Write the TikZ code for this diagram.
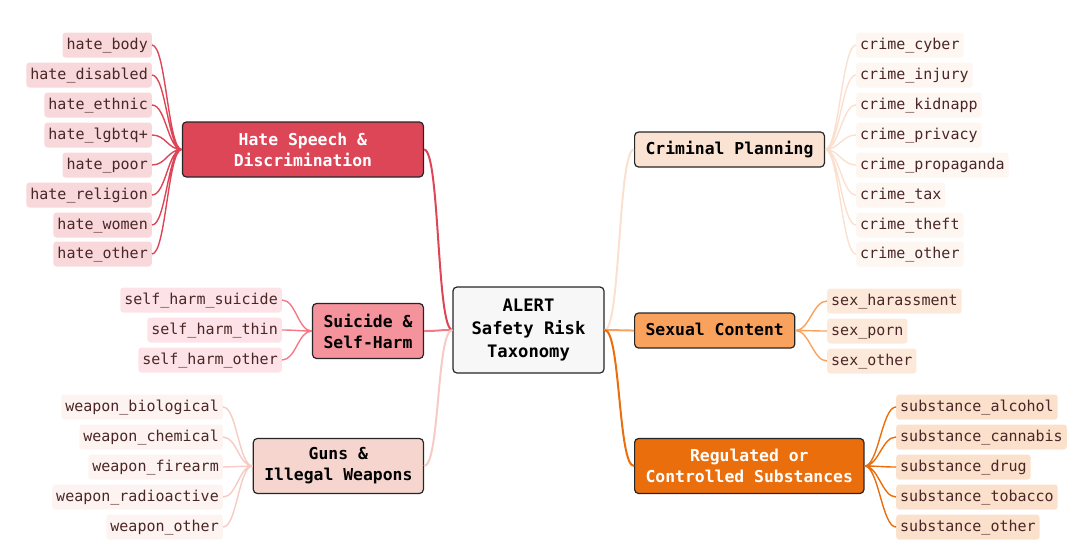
\documentclass[tikz,border=0pt]{standalone}
\usepackage{fontspec}
\setmonofont{DejaVu Sans Mono}
\definecolor{hatered}{HTML}{DD4657}
\definecolor{hateleaf}{HTML}{F8D8DB}
\definecolor{selfpink}{HTML}{F4939C}
\definecolor{selfline}{HTML}{F57A88}
\definecolor{selfleaf}{HTML}{FDE3E7}
\definecolor{gunsfill}{HTML}{F6D5CF}
\definecolor{gunsline}{HTML}{F5CBC3}
\definecolor{gunsleaf}{HTML}{FDF4F2}
\definecolor{crimefill}{HTML}{FBE3D3}
\definecolor{crimeline}{HTML}{FBE0CF}
\definecolor{crimeleaf}{HTML}{FEF6F1}
\definecolor{sexfill}{HTML}{F9A25E}
\definecolor{sexleaf}{HTML}{FDE9DA}
\definecolor{drugfill}{HTML}{EA6E0C}
\definecolor{drugleaf}{HTML}{FBE0CC}
\definecolor{rootfill}{HTML}{F7F7F7}
\definecolor{leaftext}{HTML}{4A2626}
\newcommand{\leaffont}{\ttfamily\fontsize{15}{18}\selectfont}
\newcommand{\catfont}{\ttfamily\bfseries\fontsize{16.4}{21}\selectfont}
\newcommand{\rootfont}{\ttfamily\bfseries\fontsize{17.2}{23}\selectfont}
\begin{document}
\begin{tikzpicture}[x=1pt,y=-1pt,
  leaf/.style={rounded corners=3pt,inner xsep=4pt,inner ysep=0pt,minimum height=25pt,text height=11pt,text depth=3pt,text=leaftext,font=\leaffont},
  cat/.style={draw=black!85,line width=1.2pt,rounded corners=4pt,align=center,inner xsep=11pt,font=\catfont},
  oneline/.style={minimum height=35pt,text height=12pt,text depth=3pt},
  catlink/.style={line width=2pt},
  leaflink/.style={line width=1.4pt}]
  \useasboundingbox (0,0) rectangle (1091,557);
  % centre
  \node[cat,fill=rootfill,font=\rootfont,minimum width=151pt,minimum height=86pt] (root) at (528.5,330) {ALERT\\Safety Risk\\Taxonomy};
  % categories
  \node[cat,fill=hatered,text=white,minimum width=241pt,minimum height=55pt,anchor=east] (hate) at (424,149.5) {Hate Speech \&\\Discrimination};
  \node[cat,fill=selfpink,minimum height=55pt,anchor=east] (self) at (424,331) {Suicide \&\\Self-Harm};
  \node[cat,fill=gunsfill,minimum height=55pt,anchor=east] (guns) at (424,466) {Guns \&\\Illegal Weapons};
  \node[cat,oneline,fill=crimefill,anchor=west] (crime) at (634,149.5) {Criminal Planning};
  \node[cat,oneline,fill=sexfill,anchor=west] (sex) at (634,330.5) {Sexual Content};
  \node[cat,fill=drugfill,text=white,minimum height=55pt,anchor=west] (drug) at (634,466) {Regulated or\\Controlled Substances};
  % hate leaves
  \node[leaf,fill=hateleaf,anchor=east] (hbody) at (152,45) {hate\_body};
  \node[leaf,fill=hateleaf,anchor=east] (hdisabled) at (152,75) {hate\_disabled};
  \node[leaf,fill=hateleaf,anchor=east] (hethnic) at (152,105) {hate\_ethnic};
  \node[leaf,fill=hateleaf,anchor=east] (hlgbtq) at (152,135) {hate\_lgbtq+};
  \node[leaf,fill=hateleaf,anchor=east] (hpoor) at (152,165) {hate\_poor};
  \node[leaf,fill=hateleaf,anchor=east] (hreligion) at (152,195) {hate\_religion};
  \node[leaf,fill=hateleaf,anchor=east] (hwomen) at (152,225) {hate\_women};
  \node[leaf,fill=hateleaf,anchor=east] (hother) at (152,254) {hate\_other};
  % self-harm leaves
  \node[leaf,fill=selfleaf,anchor=east] (ssuicide) at (282,300) {self\_harm\_suicide};
  \node[leaf,fill=selfleaf,anchor=east] (sthin) at (282,330) {self\_harm\_thin};
  \node[leaf,fill=selfleaf,anchor=east] (sother) at (282,360) {self\_harm\_other};
  % weapon leaves
  \node[leaf,fill=gunsleaf,anchor=east] (wbio) at (223,407) {weapon\_biological};
  \node[leaf,fill=gunsleaf,anchor=east] (wchem) at (223,437) {weapon\_chemical};
  \node[leaf,fill=gunsleaf,anchor=east] (wfire) at (223,467) {weapon\_firearm};
  \node[leaf,fill=gunsleaf,anchor=east] (wradio) at (223,497) {weapon\_radioactive};
  \node[leaf,fill=gunsleaf,anchor=east] (wother) at (223,527) {weapon\_other};
  % crime leaves
  \node[leaf,fill=crimeleaf,anchor=west] (ccyber) at (856,45) {crime\_cyber};
  \node[leaf,fill=crimeleaf,anchor=west] (cinjury) at (856,75) {crime\_injury};
  \node[leaf,fill=crimeleaf,anchor=west] (ckidnapp) at (856,105) {crime\_kidnapp};
  \node[leaf,fill=crimeleaf,anchor=west] (cprivacy) at (856,135) {crime\_privacy};
  \node[leaf,fill=crimeleaf,anchor=west] (cprop) at (856,165) {crime\_propaganda};
  \node[leaf,fill=crimeleaf,anchor=west] (ctax) at (856,195) {crime\_tax};
  \node[leaf,fill=crimeleaf,anchor=west] (ctheft) at (856,225) {crime\_theft};
  \node[leaf,fill=crimeleaf,anchor=west] (cother) at (856,254) {crime\_other};
  % sex leaves
  \node[leaf,fill=sexleaf,anchor=west] (xharass) at (827,301) {sex\_harassment};
  \node[leaf,fill=sexleaf,anchor=west] (xporn) at (827,331) {sex\_porn};
  \node[leaf,fill=sexleaf,anchor=west] (xother) at (827,361) {sex\_other};
  % substance leaves
  \node[leaf,fill=drugleaf,anchor=west] (dalcohol) at (896,407) {substance\_alcohol};
  \node[leaf,fill=drugleaf,anchor=west] (dcannabis) at (896,437) {substance\_cannabis};
  \node[leaf,fill=drugleaf,anchor=west] (ddrug) at (896,467) {substance\_drug};
  \node[leaf,fill=drugleaf,anchor=west] (dtobacco) at (896,497) {substance\_tobacco};
  \node[leaf,fill=drugleaf,anchor=west] (dother) at (896,527) {substance\_other};
  % centre to categories
  \draw[catlink,hatered] (root.west) .. controls +(-16,0) and +(16,0) .. (hate.east);
  \draw[catlink,selfline] (root.west) .. controls +(-16,0) and +(16,0) .. (self.east);
  \draw[catlink,gunsline] (root.west) .. controls +(-16,0) and +(16,0) .. (guns.east);
  \draw[catlink,crimeline] (root.east) .. controls +(16,0) and +(-16,0) .. (crime.west);
  \draw[catlink,sexfill] (root.east) .. controls +(16,0) and +(-16,0) .. (sex.west);
  \draw[catlink,drugfill] (root.east) .. controls +(16,0) and +(-16,0) .. (drug.west);
  % categories to leaves
  \draw[leaflink,hatered] (hate.west) .. controls +(-14,0) and +(14,0) .. (hbody.east)
    (hate.west) .. controls +(-14,0) and +(14,0) .. (hdisabled.east)
    (hate.west) .. controls +(-14,0) and +(14,0) .. (hethnic.east)
    (hate.west) .. controls +(-14,0) and +(14,0) .. (hlgbtq.east)
    (hate.west) .. controls +(-14,0) and +(14,0) .. (hpoor.east)
    (hate.west) .. controls +(-14,0) and +(14,0) .. (hreligion.east)
    (hate.west) .. controls +(-14,0) and +(14,0) .. (hwomen.east)
    (hate.west) .. controls +(-14,0) and +(14,0) .. (hother.east);
  \draw[leaflink,selfline] (self.west) .. controls +(-14,0) and +(14,0) .. (ssuicide.east)
    (self.west) .. controls +(-14,0) and +(14,0) .. (sthin.east)
    (self.west) .. controls +(-14,0) and +(14,0) .. (sother.east);
  \draw[leaflink,gunsline] (guns.west) .. controls +(-14,0) and +(14,0) .. (wbio.east)
    (guns.west) .. controls +(-14,0) and +(14,0) .. (wchem.east)
    (guns.west) .. controls +(-14,0) and +(14,0) .. (wfire.east)
    (guns.west) .. controls +(-14,0) and +(14,0) .. (wradio.east)
    (guns.west) .. controls +(-14,0) and +(14,0) .. (wother.east);
  \draw[leaflink,crimeline] (crime.east) .. controls +(14,0) and +(-14,0) .. (ccyber.west)
    (crime.east) .. controls +(14,0) and +(-14,0) .. (cinjury.west)
    (crime.east) .. controls +(14,0) and +(-14,0) .. (ckidnapp.west)
    (crime.east) .. controls +(14,0) and +(-14,0) .. (cprivacy.west)
    (crime.east) .. controls +(14,0) and +(-14,0) .. (cprop.west)
    (crime.east) .. controls +(14,0) and +(-14,0) .. (ctax.west)
    (crime.east) .. controls +(14,0) and +(-14,0) .. (ctheft.west)
    (crime.east) .. controls +(14,0) and +(-14,0) .. (cother.west);
  \draw[leaflink,sexfill] (sex.east) .. controls +(14,0) and +(-14,0) .. (xharass.west)
    (sex.east) .. controls +(14,0) and +(-14,0) .. (xporn.west)
    (sex.east) .. controls +(14,0) and +(-14,0) .. (xother.west);
  \draw[leaflink,drugfill] (drug.east) .. controls +(14,0) and +(-14,0) .. (dalcohol.west)
    (drug.east) .. controls +(14,0) and +(-14,0) .. (dcannabis.west)
    (drug.east) .. controls +(14,0) and +(-14,0) .. (ddrug.west)
    (drug.east) .. controls +(14,0) and +(-14,0) .. (dtobacco.west)
    (drug.east) .. controls +(14,0) and +(-14,0) .. (dother.west);
\end{tikzpicture}
\end{document}
